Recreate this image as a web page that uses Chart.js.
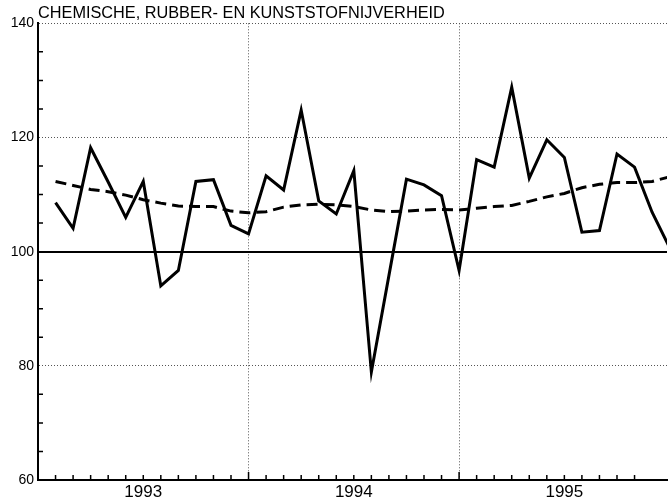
<!DOCTYPE html>
<html lang="nl">
<head>
<meta charset="UTF-8">
<title>Chemische, rubber- en kunststofnijverheid</title>
<style>
  body { margin: 0; background: #fff; }
  canvas { display: block; }
</style>
</head>
<body>
<canvas id="chart" width="669" height="502"></canvas>
<script src="https://cdn.jsdelivr.net/npm/chart.js"></script>
<script>
const title = 'CHEMISCHE, RUBBER- EN KUNSTSTOFNIJVERHEID';
const years = ['1993', '1994', '1995'];
const months = [
  '1993-01', '1993-02', '1993-03', '1993-04', '1993-05', '1993-06',
  '1993-07', '1993-08', '1993-09', '1993-10', '1993-11', '1993-12',
  '1994-01', '1994-02', '1994-03', '1994-04', '1994-05', '1994-06',
  '1994-07', '1994-08', '1994-09', '1994-10', '1994-11', '1994-12',
  '1995-01', '1995-02', '1995-03', '1995-04', '1995-05', '1995-06',
  '1995-07', '1995-08', '1995-09', '1995-10', '1995-11', '1995-12'
];
// index (solid line)
const production = [
  108.6, 104.1, 118.2, 112.2, 106.0, 112.3, 94.0, 96.7, 112.3, 112.6, 104.6, 103.1,
  113.3, 110.8, 124.8, 108.9, 106.6, 114.2, 78.9, 95.8, 112.7, 111.7, 109.8, 96.7,
  116.1, 114.8, 128.8, 112.9, 119.6, 116.5, 103.4, 103.7, 117.1, 114.8, 106.9, 100.7
];
// trend (dashed line)
const trend = [
  112.3, 111.6, 110.9, 110.5, 109.9, 109.1, 108.5, 108.0, 107.9, 107.9, 107.1, 106.8,
  107.0, 107.8, 108.2, 108.3, 108.2, 107.9, 107.3, 107.0, 107.1, 107.3, 107.4, 107.3,
  107.6, 107.9, 108.1, 108.8, 109.6, 110.2, 111.2, 111.8, 112.1, 112.1, 112.3, 113.1
];

// month i is plotted on tick i + 1 (year boundaries at 12 and 24)
const toPoints = values => values.map((v, i) => ({ x: i + 1, y: v, period: months[i] }));

// short tick marks pointing into the plot
const innerTicks = {
  id: 'innerTicks',
  afterDraw(chart) {
    const { ctx, chartArea: a, scales: { x, y } } = chart;
    ctx.save();
    ctx.strokeStyle = '#000';
    ctx.lineWidth = 1.5;
    ctx.beginPath();
    y.ticks.forEach(t => {
      if (t.value % 20 === 0) return;
      const py = y.getPixelForValue(t.value);
      ctx.moveTo(a.left, py);
      ctx.lineTo(a.left + 5, py);
    });
    x.ticks.forEach(t => {
      if (!Number.isInteger(t.value) || t.value === 0) return;
      const px = x.getPixelForValue(t.value);
      const len = t.value % 12 === 0 ? 8 : 5;
      ctx.moveTo(px, a.bottom);
      ctx.lineTo(px, a.bottom - len);
    });
    ctx.stroke();
    ctx.restore();
  }
};

const font = 'Liberation Sans, Arial, sans-serif';

new Chart(document.getElementById('chart'), {
  type: 'line',
  data: {
    datasets: [
      {
        label: 'index',
        data: toPoints(production),
        borderColor: '#000',
        borderWidth: 3,
        pointRadius: 0,
        tension: 0
      },
      {
        label: 'trend',
        data: toPoints(trend),
        borderColor: '#000',
        borderWidth: 3,
        borderDash: [11, 6],
        pointRadius: 0,
        tension: 0
      }
    ]
  },
  options: {
    responsive: false,
    animation: false,
    devicePixelRatio: 1,
    layout: { padding: 0 },
    plugins: {
      legend: { display: false },
      tooltip: { enabled: false },
      title: {
        display: true,
        text: title,
        align: 'start',
        fullSize: false,
        color: '#000',
        font: { family: font, size: 16.3, weight: 'normal', lineHeight: 1 },
        padding: { top: 5, bottom: 2 }
      }
    },
    scales: {
      x: {
        type: 'linear',
        min: 0,
        max: 35.85,
        afterFit: s => { s.height = 22; },
        ticks: {
          stepSize: 1,
          autoSkip: false,
          maxRotation: 0,
          color: '#000',
          padding: 2,
          font: { family: font, size: 17 },
          callback: v => (v % 12 === 6 ? years[(v - 6) / 12] : '')
        },
        grid: {
          drawTicks: false,
          color: c => (c.tick && c.tick.value > 0 && c.tick.value % 12 === 0 ? '#555' : 'transparent'),
          lineWidth: 1
        },
        border: { color: '#000', width: 2, dash: c => (c.tick ? [1, 2] : []) }
      },
      y: {
        min: 60,
        max: 140,
        afterFit: s => { s.width = 38; },
        ticks: {
          stepSize: 5,
          autoSkip: false,
          color: '#000',
          padding: 4,
          font: { family: font, size: 14 },
          callback: v => (v % 20 === 0 ? v : '')
        },
        grid: {
          drawTicks: false,
          color: c => {
            const v = c.tick && c.tick.value;
            if (v === 100) return '#000';
            if (v > 60 && v % 20 === 0) return '#555';
            return 'transparent';
          },
          lineWidth: c => (c.tick && c.tick.value === 100 ? 2 : 1)
        },
        border: { color: '#000', width: 2, dash: c => (c.tick && c.tick.value !== 100 ? [1, 2] : []) }
      }
    }
  },
  plugins: [innerTicks]
});
</script>
</body>
</html>
